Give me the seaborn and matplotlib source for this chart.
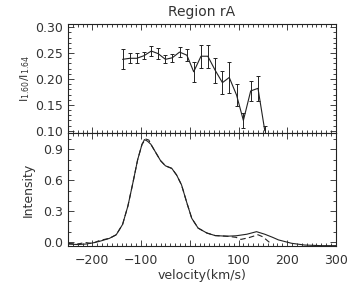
import numpy as np
import pandas as pd
import seaborn as sns
import matplotlib
matplotlib.use("Agg")
import matplotlib.pyplot as plt
from matplotlib.ticker import MultipleLocator

# line ratio with errors (top panel)
ratio_vel = [-138, -123, -109, -94, -79, -65, -50, -36, -21, -6, 8,
             23, 37, 52, 67, 81, 96, 110, 125, 140, 154]
ratio_val = [0.238, 0.240, 0.240, 0.245, 0.254, 0.249, 0.238, 0.241, 0.252, 0.246, 0.214,
             0.244, 0.244, 0.217, 0.193, 0.203, 0.169, 0.120, 0.177, 0.182, 0.100]
ratio_err = [0.019, 0.010, 0.010, 0.007, 0.009, 0.010, 0.008, 0.008, 0.010, 0.012, 0.019,
             0.022, 0.022, 0.024, 0.022, 0.030, 0.022, 0.015, 0.019, 0.024, 0.010]

# line profiles (bottom panel)
prof_vel = [-250, -230, -213, -200, -186, -165, -151, -138, -127, -117, -107, -98, -93,
            -87, -80, -70, -60, -50, -37, -27, -17, -6, 4, 17, 35, 52, 76, 95,
            117, 137, 154, 170, 182, 209, 236, 270, 300]
prof_solid = [-0.020, -0.025, -0.020, -0.010, 0.005, 0.035, 0.070, 0.170, 0.350, 0.570, 0.800, 0.950, 0.995,
              0.980, 0.950, 0.870, 0.790, 0.740, 0.715, 0.650, 0.555, 0.380, 0.230, 0.135, 0.087, 0.062, 0.056, 0.060,
              0.075, 0.100, 0.075, 0.045, 0.020, -0.013, -0.030, -0.036, -0.036]
dash_vel = [-250, -230, -215, -200, -185, -165, -151, -138, -127, -117, -107, -98, -90,
            -84, -80, -70, -60, -50, -37, -27, -17, -6, 4, 17, 35, 52, 76, 95,
            105, 120, 140, 150, 165]
prof_dash = [-0.015, -0.020, -0.005, -0.015, 0.015, 0.035, 0.070, 0.170, 0.350, 0.570, 0.800, 0.950, 1.000,
             0.990, 0.950, 0.870, 0.790, 0.740, 0.715, 0.650, 0.555, 0.380, 0.230, 0.135, 0.087, 0.062, 0.056, 0.045,
             0.025, 0.040, 0.070, 0.050, -0.010]

sns.set_style("ticks")
plt.rcParams["font.family"] = ["DejaVu Sans"]
ink = "#222222"
txt = "#333333"
plt.rcParams.update({"text.color": txt, "axes.labelcolor": txt, "xtick.color": ink,
                     "ytick.color": ink, "xtick.labelcolor": txt, "ytick.labelcolor": txt,
                     "axes.edgecolor": ink, "font.size": 9})

fig = plt.figure(figsize=(3.57, 2.94), dpi=100)
ax1 = fig.add_axes([0.1905, 0.548, 0.7505, 0.370])
ax2 = fig.add_axes([0.1905, 0.163, 0.7505, 0.385])

df_r = pd.DataFrame({"vel": ratio_vel, "ratio": ratio_val})
sns.lineplot(data=df_r, x="vel", y="ratio", ax=ax1, color=ink, lw=0.8)
ax1.errorbar(ratio_vel, ratio_val, yerr=ratio_err, fmt="none", ecolor=ink,
             elinewidth=0.7, capsize=1.6, capthick=0.7)

df_s = pd.DataFrame({"vel": prof_vel, "I": prof_solid})
df_d = pd.DataFrame({"vel": dash_vel, "I": prof_dash})
sns.lineplot(data=df_s, x="vel", y="I", ax=ax2, color=ink, lw=0.8)
sns.lineplot(data=df_d, x="vel", y="I", ax=ax2, color=ink, lw=0.8, linestyle=(0, (5, 3)))

for ax in (ax1, ax2):
    ax.set_xlim(-250, 300)
    ax.xaxis.set_major_locator(MultipleLocator(100))
    ax.xaxis.set_minor_locator(MultipleLocator(10))
    ax.tick_params(which="both", direction="in", top=True, right=True, width=0.6)
    ax.tick_params(which="major", length=4)
    ax.tick_params(which="minor", length=2)
    ax.tick_params(axis="x", pad=6)
    for s in ax.spines.values():
        s.set_linewidth(0.8)

ax1.set_ylim(0.096, 0.306)
ax1.yaxis.set_major_locator(MultipleLocator(0.05))
ax1.yaxis.set_minor_locator(MultipleLocator(0.01))
ax1.yaxis.set_major_formatter(matplotlib.ticker.FormatStrFormatter("%.2f"))
ax1.tick_params(labelbottom=False)
ax1.set_xlabel("")
ax1.set_ylabel(r"$\mathrm{I_{1.60}/I_{1.64}}$", fontsize=8, labelpad=2)
ax1.set_title("Region rA", fontsize=10, pad=6)

ax2.set_ylim(-0.04, 1.06)
ax2.yaxis.set_major_locator(MultipleLocator(0.3))
ax2.yaxis.set_minor_locator(MultipleLocator(0.1))
ax2.yaxis.set_major_formatter(matplotlib.ticker.FormatStrFormatter("%.1f"))
ax2.set_ylabel("Intensity", fontsize=9, labelpad=6)
ax2.set_xlabel("velocity(km/s)", fontsize=9, labelpad=1)

fig.savefig("out.png", dpi=100)
